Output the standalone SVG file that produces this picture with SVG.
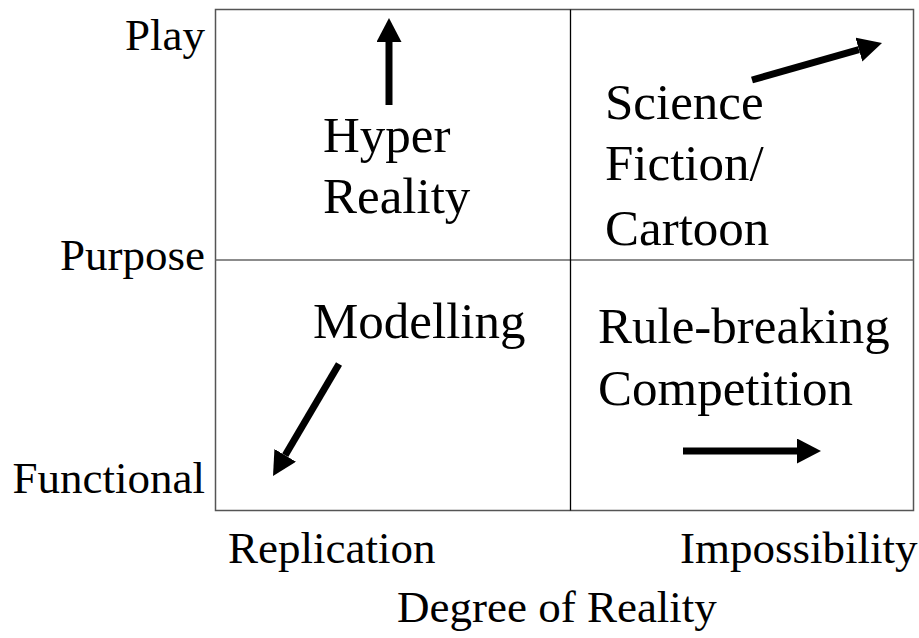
<svg xmlns="http://www.w3.org/2000/svg" width="919" height="638" viewBox="0 0 919 638">
<style>
text{font-family:"Liberation Serif","Times New Roman",serif;fill:#000}
.ax{font-size:45px}
.q{font-size:51px}
.shaft{stroke:#000;stroke-width:7;fill:none}
</style>
<defs>
<marker id="ah" viewBox="0 0 24 25" markerWidth="24" markerHeight="25" refX="0" refY="12.5" markerUnits="userSpaceOnUse" orient="auto">
<path d="M0,0 L24,12.5 L0,25 z" fill="#000"/>
</marker>
</defs>
<rect width="919" height="638" fill="#fff"/>
<g id="frame">
<rect x="215.5" y="9.5" width="698" height="501" fill="none" stroke="#555" stroke-width="1.5"/>
<line x1="215.5" y1="260" x2="913.5" y2="260" stroke="#666" stroke-width="1.5"/>
<line x1="570.5" y1="9.5" x2="570.5" y2="510.5" stroke="#000" stroke-width="1.3"/>
</g>
<g id="axis-labels" class="ax">
<text x="205" y="50" text-anchor="end">Play</text>
<text x="205" y="270" text-anchor="end">Purpose</text>
<text x="205" y="493" text-anchor="end">Functional</text>
<text x="228" y="563">Replication</text>
<text x="680" y="563">Impossibility</text>
<text x="397" y="622">Degree of Reality</text>
</g>
<g id="hyper-reality" class="q">
<text x="323" y="152">Hyper</text>
<text x="323" y="213">Reality</text>
</g>
<g id="science-fiction" class="q">
<text x="605" y="119">Science</text>
<text x="605" y="180">Fiction/</text>
<text x="605" y="245">Cartoon</text>
</g>
<g id="modelling" class="q">
<text x="313" y="338">Modelling</text>
</g>
<g id="rule-breaking" class="q">
<text x="598" y="343">Rule-breaking</text>
<text x="598" y="405">Competition</text>
</g>
<g id="connectors">
<line class="shaft" x1="389" y1="105" x2="389" y2="42" marker-end="url(#ah)"/>
<line class="shaft" x1="752" y1="80" x2="858.9" y2="49.6" marker-end="url(#ah)"/>
<line class="shaft" x1="339" y1="364" x2="285.2" y2="455.3" marker-end="url(#ah)"/>
<line class="shaft" x1="683" y1="451" x2="797" y2="451" marker-end="url(#ah)"/>
</g>
</svg>
